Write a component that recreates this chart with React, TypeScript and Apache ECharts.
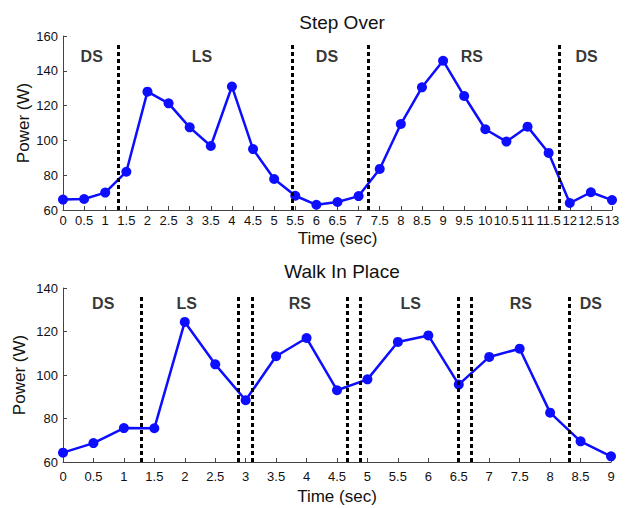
import React, { useEffect, useRef } from "react";
import * as echarts from "echarts";

// Step Over
const topTime = [0, 0.5, 1, 1.5, 2, 2.5, 3, 3.5, 4, 4.5, 5, 5.5, 6, 6.5, 7, 7.5, 8, 8.5, 9, 9.5, 10, 10.5, 11, 11.5, 12, 12.5, 13];
const topPower = [66, 66.3, 70, 82, 128, 121.3, 107.5, 96.8, 131, 95, 77.8, 68.2, 63, 64.6, 68, 83.6, 109.4, 130.5, 145.8, 125.5, 106.4, 99.3, 107.9, 92.8, 64, 70.2, 65.7];
const topBoundaries = [1.31, 5.43, 7.22, 11.76];
const topPhaseNames = ["DS", "LS", "DS", "RS", "DS"];
const topPhaseX = [0.68, 3.29, 6.25, 9.68, 12.4];
const topPhaseY = [148.5, 148.5, 148.5, 148.5, 148.5];
const topYTicks = [60, 80, 100, 120, 140, 160];

// Walk In Place
const botTime = [0, 0.5, 1, 1.5, 2, 2.5, 3, 3.5, 4, 4.5, 5, 5.5, 6, 6.5, 7, 7.5, 8, 8.5, 9];
const botPower = [64.3, 68.7, 75.6, 75.5, 124.4, 104.9, 88.4, 108.6, 117, 93, 98, 115.2, 118.2, 95.6, 108.3, 112.1, 82.7, 69.5, 62.6];
const botBoundaries = [1.29, 2.87, 3.11, 4.67, 4.89, 6.49, 6.71, 8.31];
const botPhaseNames = ["DS", "LS", "RS", "LS", "RS", "DS"];
const botPhaseX = [0.66, 2.03, 3.89, 5.71, 7.52, 8.67];
const botPhaseY = [132.8, 132.8, 132.8, 132.8, 132.8, 132.8];
const botYTicks = [60, 80, 100, 120, 140];

const topDashTop = 156;
const botDashTop = 136.6;

const FONT = "'Liberation Sans', Arial, Helvetica, sans-serif";
const BLUE = "#0d0dff";

function zip(a: number[], b: number[]) {
  return a.map((v, i) => [v, b[i]]);
}

function axisX(idx: number, max: number, labelMargin: number, nameGap: number) {
  return {
    type: "value",
    gridIndex: idx,
    min: 0,
    max,
    interval: 0.5,
    name: "Time (sec)",
    nameLocation: "middle",
    nameGap,
    nameTextStyle: { fontFamily: FONT, fontSize: 17, color: "#111", verticalAlign: "top" },
    axisLine: { show: true, lineStyle: { color: "#444", width: 1 } },
    axisTick: { show: true, inside: true, length: 4, lineStyle: { color: "#444" } },
    axisLabel: { fontFamily: FONT, fontSize: 13, color: "#111", margin: labelMargin, hideOverlap: false, showMinLabel: true, showMaxLabel: true },
    splitLine: { show: false },
  };
}

function axisY(idx: number, ticks: number[], nameGap: number) {
  return {
    type: "value",
    gridIndex: idx,
    min: ticks[0],
    max: ticks[ticks.length - 1],
    interval: ticks[1] - ticks[0],
    name: "Power (W)",
    nameLocation: "middle",
    nameGap,
    nameMoveOverlap: false,
    nameTextStyle: { fontFamily: FONT, fontSize: 17, color: "#111" },
    axisLine: { show: true, lineStyle: { color: "#444", width: 1 } },
    axisTick: { show: true, inside: true, length: 4, lineStyle: { color: "#444" } },
    axisLabel: { fontFamily: FONT, fontSize: 13, color: "#111", margin: 5 },
    splitLine: { show: false },
  };
}

function mainSeries(idx: number, time: number[], power: number[], bounds: number[], base: number, dashTop: number) {
  return {
    type: "line",
    xAxisIndex: idx,
    yAxisIndex: idx,
    data: zip(time, power),
    symbol: "circle",
    symbolSize: 10,
    itemStyle: { color: BLUE },
    lineStyle: { color: BLUE, width: 2.5 },
    z: 3,
    markLine: {
      silent: true,
      symbol: ["none", "none"],
      label: { show: false },
      lineStyle: { color: "#000", width: 3, type: [4, 3] },
      data: bounds.map((b) => [{ coord: [b, base] }, { coord: [b, dashTop] }]),
      z: 4,
    },
  };
}

function phaseSeries(idx: number, xs: number[], ys: number[], names: string[]) {
  return {
    type: "scatter",
    xAxisIndex: idx,
    yAxisIndex: idx,
    data: xs.map((x, i) => [x, ys[i], names[i]]),
    symbolSize: 1,
    itemStyle: { color: "rgba(0,0,0,0)" },
    silent: true,
    label: {
      show: true,
      position: "inside",
      formatter: (p: any) => p.value[2],
      fontFamily: FONT,
      fontSize: 16,
      fontWeight: "bold",
      color: "#000",
      textBorderWidth: 0,
    },
  };
}

export default function App() {
  const ref = useRef<HTMLDivElement>(null);
  useEffect(() => {
    if (!ref.current) return;
    const chart = echarts.init(ref.current, undefined, { renderer: "svg" });
    chart.setOption({
      animation: false,
      backgroundColor: "#fff",
      title: [
        { text: "Step Over", left: 337, top: 8, textAlign: "center", textStyle: { fontFamily: FONT, fontSize: 19, fontWeight: "normal", color: "#111" } },
        { text: "Walk In Place", left: 337, top: 257, textAlign: "center", textStyle: { fontFamily: FONT, fontSize: 19, fontWeight: "normal", color: "#111" } },
      ],
      grid: [
        { left: 63, top: 36, width: 549, height: 174 },
        { left: 63, top: 288, width: 548, height: 174 },
      ],
      xAxis: [axisX(0, 13, 4, 20), axisX(1, 9, 8, 26)],
      yAxis: [axisY(0, topYTicks, 31), axisY(1, botYTicks, 35)],
      series: [
        mainSeries(0, topTime, topPower, topBoundaries, topYTicks[0], topDashTop),
        mainSeries(1, botTime, botPower, botBoundaries, botYTicks[0], botDashTop),
        phaseSeries(0, topPhaseX, topPhaseY, topPhaseNames),
        phaseSeries(1, botPhaseX, botPhaseY, botPhaseNames),
      ],
    });
    return () => chart.dispose();
  }, []);
  return <div ref={ref} style={{ width: 626, height: 508, position: "absolute", left: 0, top: 0 }} />;
}
